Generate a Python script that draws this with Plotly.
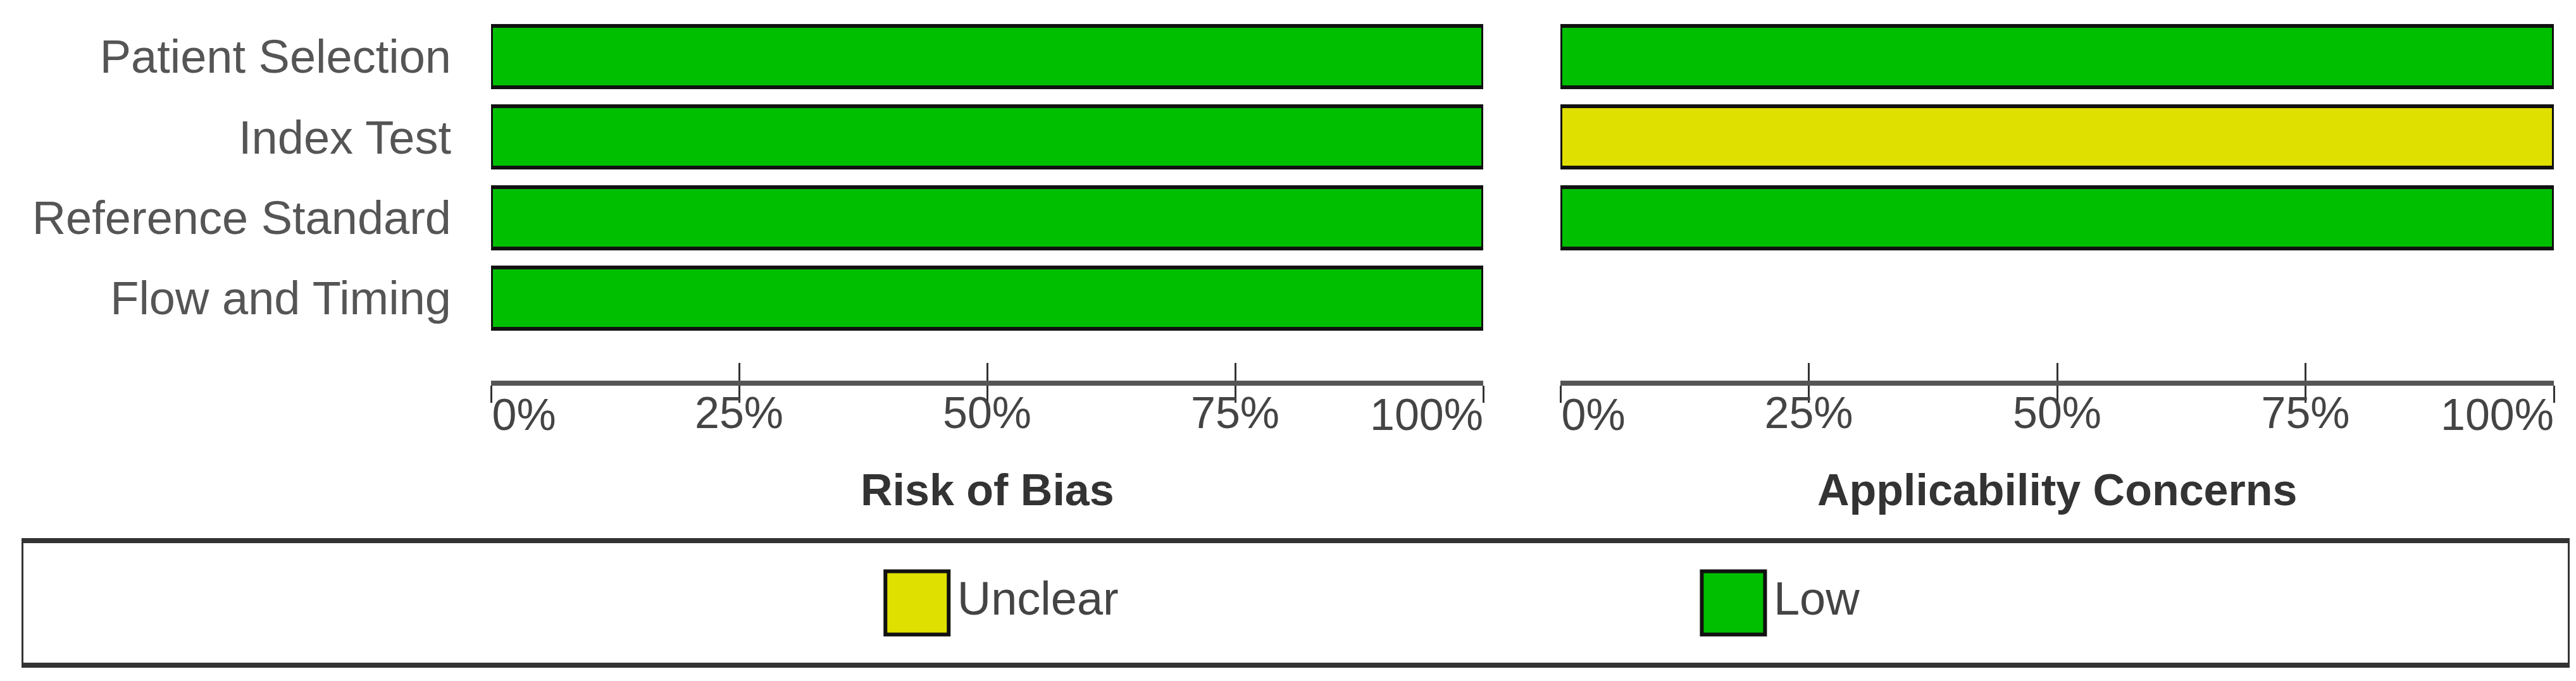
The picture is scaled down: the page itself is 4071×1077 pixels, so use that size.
import plotly.graph_objects as go

# ---------------- data ----------------
domains = ["Patient Selection", "Index Test", "Reference Standard", "Flow and Timing"]
rob_low = [100, 100, 100, 100]
rob_unclear = [0, 0, 0, 0]
app_low = [100, 0, 100, 0]
app_unclear = [0, 100, 0, 0]
legend_keys = ["Unclear", "Low"]
tick_vals = [0, 25, 50, 75, 100]
tick_text = ["0%", "25%", "50%", "75%", "100%"]
panel_titles = ["Risk of Bias", "Applicability Concerns"]

colors = {"Low": "#00BF00", "Unclear": "#DFDF00"}
FONT = "Liberation Sans, Arial, sans-serif"
W, H = 4071, 1077


def nz(vals):
    return [v if v else None for v in vals]


fig = go.Figure()

series = [("Low", rob_low, app_low), ("Unclear", rob_unclear, app_unclear)]
for name, rob, app in series:
    for xa, ya, vals in (("x", "y", rob), ("x2", "y2", app)):
        fig.add_trace(go.Bar(
            x=nz(vals), y=domains, orientation="h", name=name,
            xaxis=xa, yaxis=ya, width=0.762, showlegend=False,
            marker=dict(color=colors[name], line=dict(color="#111111", width=6)),
            hoverinfo="skip",
        ))

# invisible helpers so the overlay axes (inside ticks / edge labels) render
for xa, ya in (("x3", "y"), ("x4", "y2"), ("x6", "y"), ("x7", "y2")):
    fig.add_trace(go.Scatter(x=[0], y=[domains[0]], xaxis=xa, yaxis=ya,
                             mode="markers", marker=dict(opacity=0), showlegend=False,
                             hoverinfo="skip"))

# legend drawn as its own little subplot
fig.add_trace(go.Scatter(
    x=legend_keys, y=[0, 0], xaxis="x5", yaxis="y5", mode="markers+text",
    text=legend_keys, textposition="middle right",
    textfont=dict(family=FONT, size=74, color="#444444"),
    marker=dict(symbol="square", size=100, color=[colors[k] for k in legend_keys],
                line=dict(color="#111111", width=6)),
    showlegend=False, hoverinfo="skip", cliponaxis=False,
))

ydom = [1 - 594 / H, 1.0]
xdom_l = [768 / W, 2336 / W]
xdom_r = [2458 / W, 4028 / W]

tickfont = dict(family=FONT, size=70, color="#444444")
middle_text = ["" if v in (0, 100) else t for v, t in zip(tick_vals, tick_text)]
first_text = [t if v == 0 else "" for v, t in zip(tick_vals, tick_text)]
last_text = [t if v == 100 else "" for v, t in zip(tick_vals, tick_text)]

xcommon = dict(range=[0, 100], tickvals=tick_vals, ticktext=middle_text, showgrid=False,
               zeroline=False, showline=True, linewidth=8, linecolor="#555555",
               ticks="outside", ticklen=27, tickwidth=3, tickcolor="#333333",
               tickfont=tickfont, ticklabelstandoff=-44, automargin=False, fixedrange=True)
xinside = dict(range=[0, 100], tickvals=tick_vals, ticktext=first_text, showgrid=False,
               zeroline=False, showline=False, ticks="inside", ticklen=28, tickwidth=3,
               tickcolor="#333333", tickfont=tickfont, ticklabelposition="outside right",
               ticklabelstandoff=7, automargin=False)
xlast = dict(range=[0, 100], tickvals=tick_vals, ticktext=last_text, showgrid=False,
             zeroline=False, showline=False, ticks="", tickfont=tickfont,
             ticklabelposition="outside left", ticklabelstandoff=7, automargin=False)
ycommon = dict(type="category", categoryorder="array", categoryarray=domains,
               range=[4.026, -0.64], domain=ydom, showgrid=False, zeroline=False,
               showline=False, ticks="", automargin=False)

fig.update_layout(
    width=W, height=H, margin=dict(l=0, r=0, t=0, b=0, autoexpand=False),
    paper_bgcolor="white", plot_bgcolor="white", barmode="stack", bargap=0,
    showlegend=False,
    xaxis=dict(domain=xdom_l, anchor="y", **xcommon),
    xaxis2=dict(domain=xdom_r, anchor="y2", **xcommon),
    xaxis3=dict(overlaying="x", anchor="y", matches="x", **xinside),
    xaxis4=dict(overlaying="x2", anchor="y2", matches="x2", **xinside),
    xaxis6=dict(overlaying="x", anchor="y", matches="x", **xlast),
    xaxis7=dict(overlaying="x2", anchor="y2", matches="x2", **xlast),
    yaxis=dict(anchor="x", showticklabels=True, ticklabelstandoff=62,
               tickfont=dict(family=FONT, size=74, color="#555555"), **ycommon),
    yaxis2=dict(anchor="x2", showticklabels=False, **ycommon),
    xaxis5=dict(domain=[29 / W, 4050 / W], anchor="y5", type="category",
                categoryorder="array", categoryarray=legend_keys, range=[-1.0946, 2.022],
                showticklabels=False, showgrid=False, zeroline=False, ticks="",
                showline=True, mirror=True, linewidth=8, linecolor="#333333",
                automargin=False),
    yaxis5=dict(domain=[1 - 1040 / H, 1 - 851 / H], anchor="x5", range=[-1, 1],
                showticklabels=False, showgrid=False, zeroline=False, ticks="",
                showline=True, mirror=True, linewidth=3, linecolor="#333333",
                automargin=False),
    annotations=[
        dict(text=f"<b>{panel_titles[0]}</b>", x=sum(xdom_l) / 2, y=1 - 767 / H,
             xref="paper", yref="paper", showarrow=False, xanchor="center", yanchor="middle",
             font=dict(family=FONT, size=70, color="#333333")),
        dict(text=f"<b>{panel_titles[1]}</b>", x=sum(xdom_r) / 2, y=1 - 767 / H,
             xref="paper", yref="paper", showarrow=False, xanchor="center", yanchor="middle",
             font=dict(family=FONT, size=70, color="#333333")),
    ],
)

fig.write_html("out.html")
